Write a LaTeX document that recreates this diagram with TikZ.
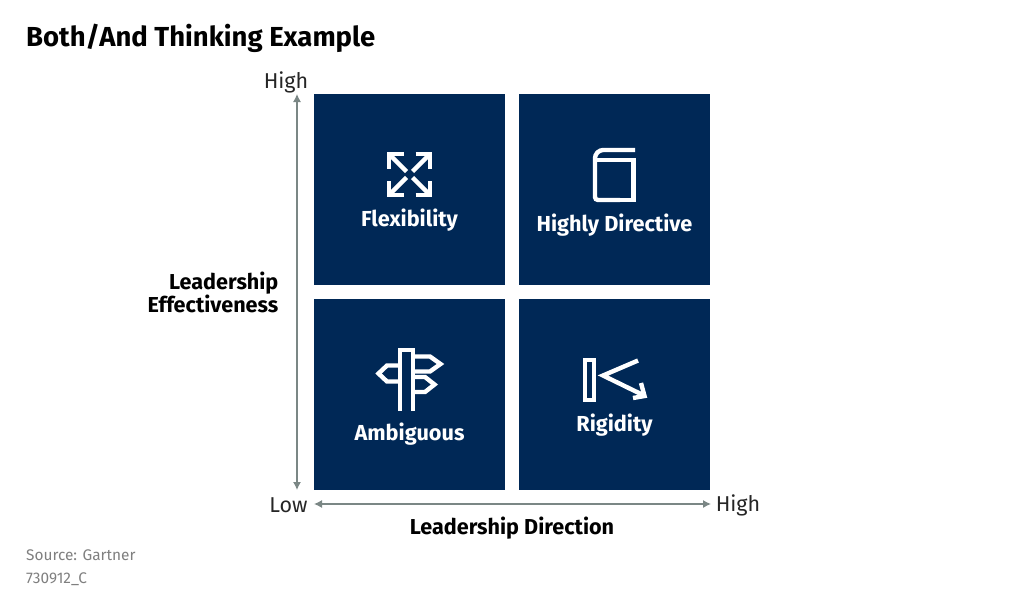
\documentclass[tikz,border=0pt]{standalone}
\usepackage{fontspec}
\setmainfont{Fira Sans}
\usetikzlibrary{arrows.meta}
\definecolor{navy}{HTML}{002856}
\definecolor{axisgray}{HTML}{7B8785}
\definecolor{notegray}{HTML}{7F7F7F}
\tikzset{
  quad/.style={draw=none, fill=navy, minimum size=191pt, inner sep=0pt, outer sep=0pt},
  quadlabel/.style={text=white, font=\fontsize{21.7}{22}\selectfont\bfseries, inner sep=0pt},
  axislabel/.style={text=black, font=\fontsize{21.6}{23}\selectfont\bfseries, align=right, inner sep=0pt},
  endlabel/.style={text=black!85, font=\fontsize{21.5}{22}\selectfont, inner sep=0pt},
  axis/.style={draw=axisgray, line width=1.2pt, {Latex[length=8pt,width=8pt]}-{Latex[length=8pt,width=8pt]}},
  icon/.style={draw=white, line width=4.4pt, miter limit=10},
  note/.style={text=notegray, font=\fontsize{15.4}{15}\selectfont, anchor=west, inner sep=0pt}
}
\begin{document}
\begin{tikzpicture}[x=1pt,y=-1pt]
		\useasboundingbox (0,0) rectangle (1024,610);
		% Title
		\node [anchor=west, inner sep=0pt, font=\fontsize{27.5}{28}\selectfont\bfseries] (title) at (26,38) {Both/And Thinking Example};
		% Quadrants
		\node [quad] (flex) at (409.5,189.5) {};
		\node [quad] (directive) at (614.5,189.5) {};
		\node [quad] (ambig) at (409.5,394) {};
		\node [quad] (rigid) at (614.5,394) {};
		\node [quadlabel] (flexlabel) at (409.5,220) {Flexibility};
		\node [quadlabel] (directivelabel) at (614.5,225) {Highly Directive};
		\node [quadlabel] (ambiglabel) at (409.5,434) {Ambiguous};
		\node [quadlabel] (rigidlabel) at (614.5,425) {Rigidity};
		% Axes
		\coordinate (ytop) at (297,94);
		\coordinate (ybot) at (297,490);
		\coordinate (xleft) at (314,504);
		\coordinate (xright) at (711,504);
		\draw [axis] (ytop) -- (ybot);
		\draw [axis] (xleft) -- (xright);
		\node [endlabel] (yhigh) at (286,82.5) {High};
		\node [endlabel] (ylow) at (288.5,505.5) {Low};
		\node [endlabel] (xhigh) at (738,505.5) {High};
		\node [axislabel] (ytitle) at (213,292) {Leadership\\Effectiveness};
		\node [axislabel] (xtitle) at (512,528) {Leadership Direction};
		% Flexibility icon
		\foreach \sx/\sy in {1/1,-1/1,1/-1,-1/-1} {
			\begin{scope}[shift={(409.5,174.5)}, xscale=\sx, yscale=\sy]
				\draw [icon] (3,3) -- (20,20);
				\draw [icon] (6,20.5) -- (20.5,20.5) -- (20.5,6);
			\end{scope}
		}
		% Book icon
		\draw [icon, rounded corners=3pt] (635,150) -- (600,150) -- (595,155) -- (595,200) -- (620,200);
		\draw [icon] (620,200) -- (633.5,200) -- (633.5,160) -- (597,160);
		% Signpost icon
		\draw [icon] (400,411) -- (400,350) -- (413,350) -- (413,411);
		\draw [icon] (400,365.5) -- (387,365.5) -- (378.5,373.5) -- (387,381.5) -- (400,381.5);
		\draw [icon] (413,356.5) -- (430,356.5) -- (440.5,364) -- (430,371.5) -- (413,371.5);
		\draw [icon] (413,377) -- (425,377) -- (434.5,384.5) -- (425,392) -- (413,392);
		% Rigidity icon
		\draw [icon] (585,360) rectangle (594,400);
		\draw [icon] (638,360.5) -- (603,375.5) -- (643,395);
		\draw [icon] (641,383) -- (644.5,396) -- (633,398);
		% Source
		\node [note] (source) at (26,555) {Source: Gartner};
		\node [note] (code) at (26,579.5) {730912\_C};
	\end{tikzpicture}
\end{document}
